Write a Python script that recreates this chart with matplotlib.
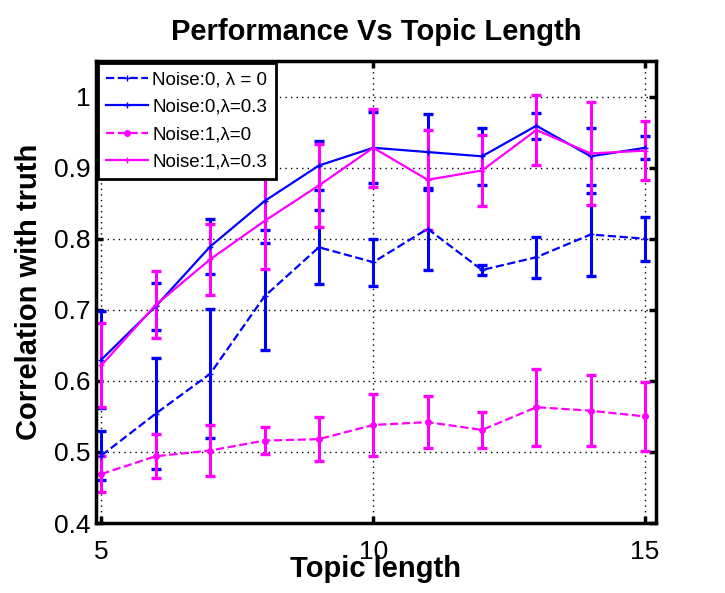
import numpy as np
import matplotlib
matplotlib.use("Agg")
import matplotlib.pyplot as plt

plt.rcParams["font.family"] = ["Liberation Sans", "DejaVu Sans"]

topic_len = [5, 6, 7, 8, 9, 10, 11, 12, 13, 14, 15]

# Noise:0, lambda = 0 (blue dashed)
n0_l0 = [0.495, 0.554, 0.610, 0.719, 0.788, 0.767, 0.814, 0.756, 0.774, 0.806, 0.800]
n0_l0_err = [0.035, 0.078, 0.091, 0.075, 0.052, 0.033, 0.058, 0.007, 0.029, 0.058, 0.031]

# Noise:0, lambda = 0.3 (blue solid)
n0_l3 = [0.630, 0.705, 0.789, 0.853, 0.903, 0.928, 0.922, 0.916, 0.959, 0.916, 0.928]
n0_l3_err = [0.068, 0.033, 0.039, 0.040, 0.034, 0.050, 0.054, 0.040, 0.018, 0.040, 0.016]

# Noise:1, lambda = 0 (magenta dashed)
n1_l0 = [0.469, 0.494, 0.502, 0.516, 0.518, 0.538, 0.542, 0.531, 0.563, 0.558, 0.550]
n1_l0_err = [0.025, 0.031, 0.036, 0.019, 0.031, 0.043, 0.037, 0.025, 0.054, 0.050, 0.049]

# Noise:1, lambda = 0.3 (magenta solid)
n1_l3 = [0.622, 0.707, 0.771, 0.825, 0.875, 0.928, 0.883, 0.896, 0.953, 0.920, 0.924]
n1_l3_err = [0.059, 0.047, 0.050, 0.068, 0.058, 0.055, 0.070, 0.050, 0.049, 0.072, 0.042]

labels = ["Noise:0, λ = 0", "Noise:0,λ=0.3", "Noise:1,λ=0", "Noise:1,λ=0.3"]

BLUE = "#0000ff"
MAGENTA = "#ff00ff"

fig = plt.figure(figsize=(7.25, 5.93), dpi=100)
ax = fig.add_axes([0.1324, 0.118, 0.7724, 0.779])

common = dict(lw=1.6, elinewidth=2.2, capsize=3.8, capthick=2.4)
conts = [
    ax.errorbar(topic_len, n0_l0, yerr=n0_l0_err, color=BLUE, ls="--", marker="+",
                ms=5, **common),
    ax.errorbar(topic_len, n0_l3, yerr=n0_l3_err, color=BLUE, ls="-", marker="+",
                ms=5, **common),
    ax.errorbar(topic_len, n1_l0, yerr=n1_l0_err, color=MAGENTA, ls="--", marker="o",
                ms=4, **common),
    ax.errorbar(topic_len, n1_l3, yerr=n1_l3_err, color=MAGENTA, ls="-", marker="+",
                ms=5, **common),
]

ax.set_xlim(4.9, 15.2)
ax.set_ylim(0.4, 1.05)
ax.set_xticks([5, 10, 15])
ax.set_yticks([0.4, 0.5, 0.6, 0.7, 0.8, 0.9, 1.0])
ax.set_yticklabels(["0.4", "0.5", "0.6", "0.7", "0.8", "0.9", "1"])
ax.grid(True, color="black", ls=(0, (1, 3)), lw=1.0)

ax.tick_params(direction="in", length=5, width=2.5, labelsize=19,
               top=True, right=True, pad=4)
ax.tick_params(axis="x", pad=12)
for sp in ax.spines.values():
    sp.set_linewidth(2.5)

ax.set_xlabel("Topic length", fontsize=21, fontweight="bold", labelpad=-6)
ax.set_ylabel("Correlation with truth", fontsize=21, fontweight="bold", labelpad=8)
ax.set_title("Performance Vs Topic Length", fontsize=21, fontweight="bold", pad=15)

leg = ax.legend([c[0] for c in conts], labels, loc="upper left", fontsize=13.5,
                fancybox=False, framealpha=1, edgecolor="black", borderaxespad=0.1,
                handlelength=2.2, handletextpad=0.25, borderpad=0.45,
                labelspacing=0.55)
leg.get_frame().set_linewidth(2.0)

fig.savefig("out.png", dpi=100)
